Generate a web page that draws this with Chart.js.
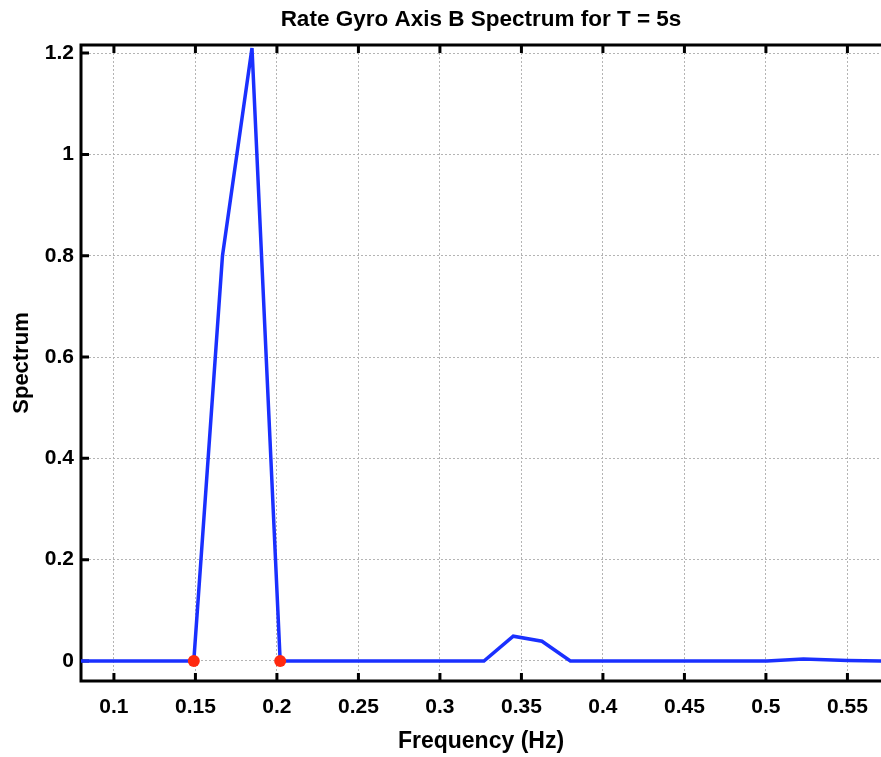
<!DOCTYPE html>
<html>
<head>
<meta charset="utf-8">
<script src="https://cdn.jsdelivr.net/npm/chart.js@4.4.1/dist/chart.umd.min.js"></script>
<style>
  html, body { margin: 0; padding: 0; background: #fff; overflow: hidden; }
  #wrap { width: 881px; height: 757px; }
  canvas { display: block; }
</style>
</head>
<body>
<div id="wrap"><canvas id="chart" width="881" height="757"></canvas></div>
<script>
// Datos del espectro
const freqs = [0.0786, 0.149, 0.1666, 0.1847, 0.202, 0.327, 0.345, 0.3626, 0.380, 0.5006, 0.523, 0.550, 0.575];
const spectrum = [0, 0, 0.80, 1.21, 0, 0, 0.049, 0.039, 0, 0, 0.004, 0.001, 0];
const markerFreqs = [0.149, 0.202];
const markerValues = [0, 0];
const xTicks = [0.1, 0.15, 0.2, 0.25, 0.3, 0.35, 0.4, 0.45, 0.5, 0.55];
const yTicks = [0, 0.2, 0.4, 0.6, 0.8, 1, 1.2];

const fontFam = "'Liberation Sans', Arial, Helvetica, sans-serif";

// Marco negro con marcas hacia dentro (debajo de la linea)
const framePlugin = {
  id: "frame",
  beforeDatasetsDraw: (chart) => {
    const { ctx, chartArea: a, scales } = chart;
    const tick = 8;
    ctx.save();
    ctx.strokeStyle = "#000";
    ctx.lineWidth = 3;
    ctx.beginPath();
    ctx.moveTo(a.right + 2, a.top);
    ctx.lineTo(a.left, a.top);
    ctx.lineTo(a.left, a.bottom);
    ctx.lineTo(a.right + 2, a.bottom);
    ctx.stroke();
    ctx.beginPath();
    xTicks.forEach(v => {
      const px = scales.x.getPixelForValue(v);
      ctx.moveTo(px, a.bottom);
      ctx.lineTo(px, a.bottom - tick);
      ctx.moveTo(px, a.top);
      ctx.lineTo(px, a.top + tick);
    });
    yTicks.forEach(v => {
      const py = scales.y.getPixelForValue(v);
      ctx.moveTo(a.left, py);
      ctx.lineTo(a.left + tick, py);
    });
    ctx.stroke();
    ctx.restore();
  }
};

const lineData = freqs.map((f, i) => ({ x: f, y: spectrum[i] }));
const markerData = markerFreqs.map((f, i) => ({ x: f, y: markerValues[i] }));

new Chart(document.getElementById("chart").getContext("2d"), {
  type: "line",
  data: {
    datasets: [
      {
        data: markerData,
        showLine: false,
        pointRadius: 6,
        pointBackgroundColor: "#ff2a10",
        pointBorderWidth: 0,
        order: 0
      },
      {
        data: lineData,
        borderColor: "#1a30ff",
        borderWidth: 3.5,
        pointRadius: 0,
        tension: 0,
        fill: false,
        clip: 0,
        order: 1
      }
    ]
  },
  options: {
    responsive: false,
    animation: false,
    layout: { padding: 0, autoPadding: false },
    plugins: {
      legend: { display: false },
      tooltip: { enabled: false },
      title: {
        display: true,
        fullSize: false,
        text: "Rate Gyro Axis B Spectrum for T = 5s",
        color: "#000",
        font: { family: fontFam, size: 22.5, weight: "bold", lineHeight: 1.2 },
        padding: { top: 6, bottom: 12 }
      }
    },
    scales: {
      x: {
        type: "linear",
        min: 0.0798,
        max: 0.5706,
        afterFit: (s) => { s.height = 76; s.paddingRight = 0; s.paddingLeft = 0; },
        afterBuildTicks: (s) => { s.ticks = xTicks.map(v => ({ value: v })); },
        grid: { color: "#b4b4b4", lineWidth: 1, tickLength: 0 },
        border: { display: false, dash: [2, 2] },
        ticks: {
          color: "#000",
          padding: 14,
          maxRotation: 0,
          font: { family: fontFam, size: 21, weight: "bold" },
          callback: (v) => String(v)
        },
        title: {
          display: true,
          text: "Frequency (Hz)",
          color: "#000",
          font: { family: fontFam, size: 23, weight: "bold", lineHeight: 1.2 },
          padding: { top: 0, bottom: 2 }
        }
      },
      y: {
        type: "linear",
        min: -0.0395,
        max: 1.216,
        afterFit: (s) => { s.width = 81; },
        afterBuildTicks: (s) => { s.ticks = yTicks.map(v => ({ value: v })); },
        grid: { color: "#b4b4b4", lineWidth: 1, tickLength: 0 },
        border: { display: false, dash: [2, 2] },
        ticks: {
          color: "#000",
          padding: 7,
          font: { family: fontFam, size: 21, weight: "bold" },
          callback: (v) => String(v)
        },
        title: {
          display: true,
          text: "Spectrum",
          color: "#000",
          font: { family: fontFam, size: 22, weight: "bold", lineHeight: 1.2 },
          padding: { top: 9, bottom: 0 }
        }
      }
    }
  },
  plugins: [framePlugin]
});
</script>
</body>
</html>
